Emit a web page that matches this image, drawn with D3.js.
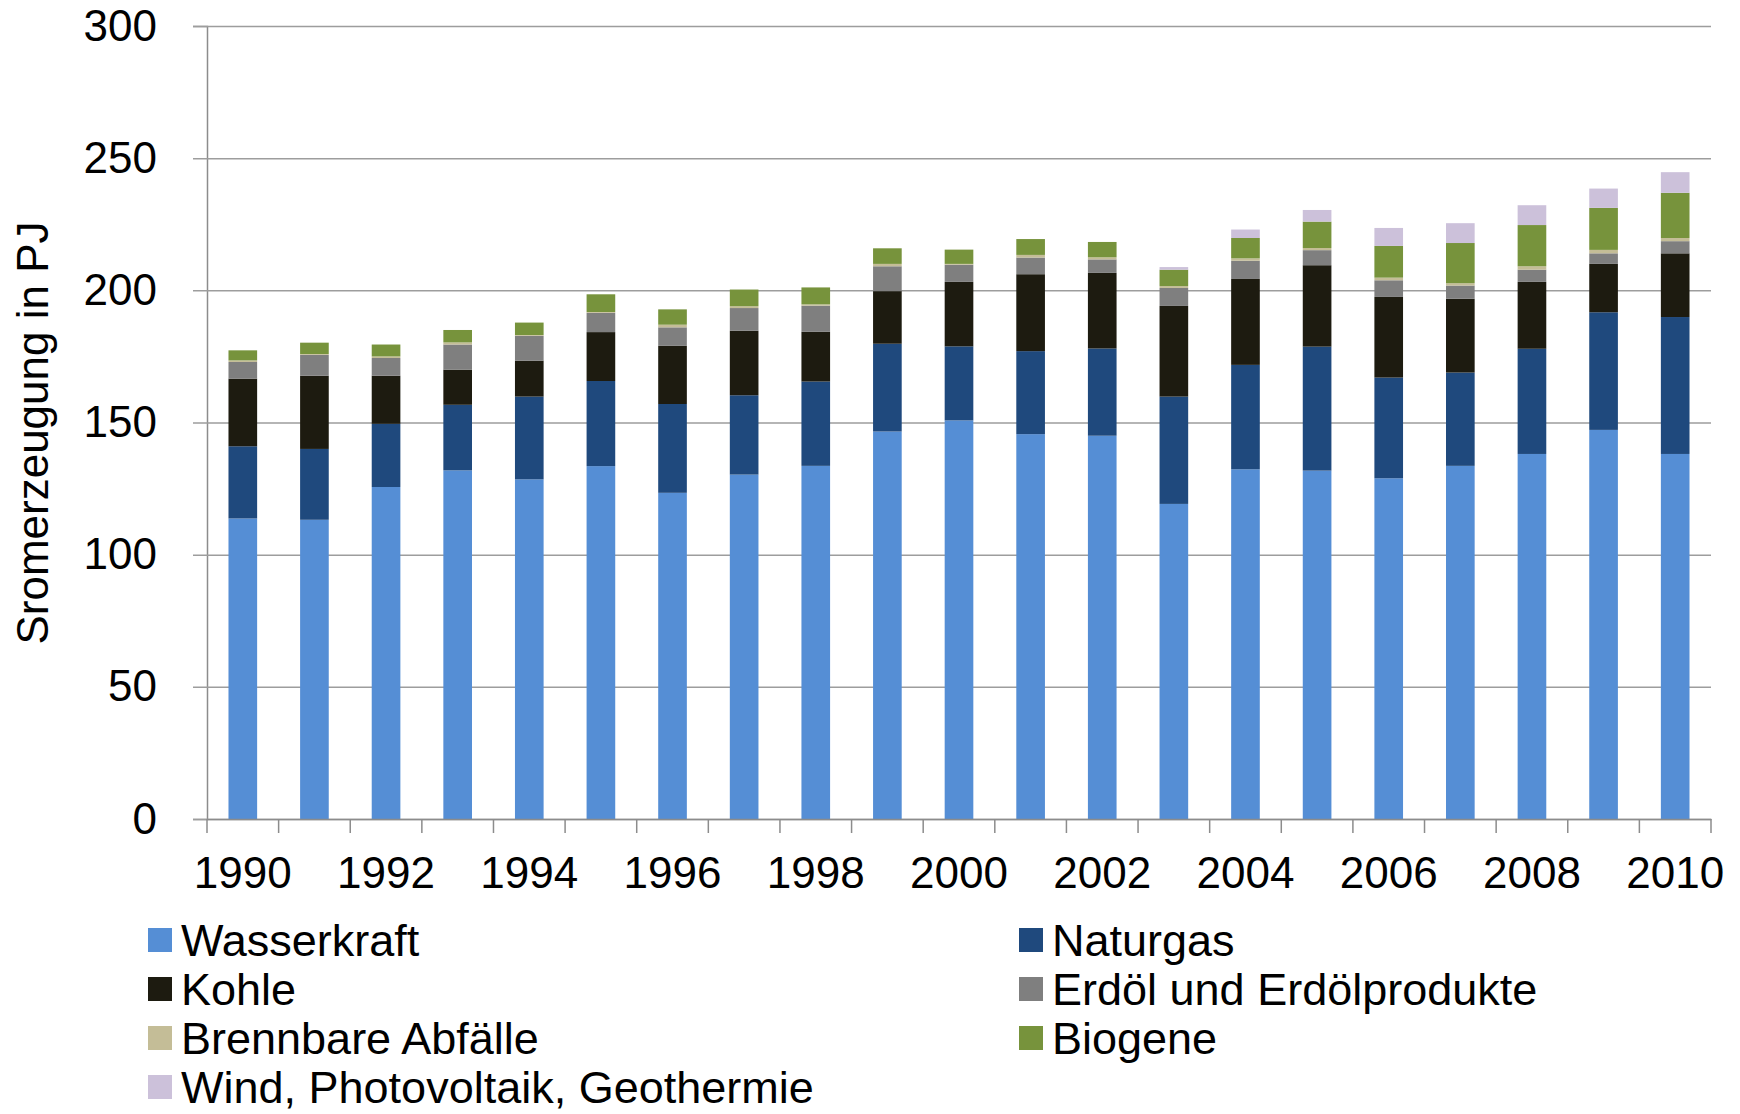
<!DOCTYPE html>
<html>
<head>
<meta charset="utf-8">
<script src="https://cdn.jsdelivr.net/npm/d3@7"></script>
<style>
  body { margin: 0; background: #fff; }
  svg { display: block; font-family: "Liberation Sans", Arial, sans-serif; }
</style>
</head>
<body>
<svg id="chart" width="1740" height="1114"></svg>
<script>
// data (PJ)
const years = d3.range(1990, 2011).map(String);
const labelYears = ["1990", "1992", "1994", "1996", "1998", "2000", "2002", "2004", "2006", "2008", "2010"];
const yTicks = [0, 50, 100, 150, 200, 250, 300];

const wasserkraft = [113.7, 113.2, 125.6, 131.9, 128.5, 133.5, 123.4, 130.3, 133.6, 146.6, 150.8, 145.6, 145.0, 119.2, 132.3, 131.8, 128.9, 133.6, 138.1, 147.2, 138.1];
const naturgas    = [27.3, 26.8, 23.9, 24.8, 31.3, 32.2, 33.6, 30.0, 31.9, 33.2, 28.0, 31.4, 33.0, 40.6, 39.5, 46.9, 38.1, 35.3, 39.8, 44.5, 51.8];
const kohle       = [25.6, 27.7, 18.2, 13.3, 13.6, 18.5, 22.0, 24.4, 18.8, 19.9, 24.4, 29.1, 28.6, 34.3, 32.5, 30.8, 30.5, 27.9, 25.3, 18.3, 24.1];
const erdoel      = [6.3, 7.9, 6.7, 9.5, 9.4, 7.3, 7.0, 8.6, 9.9, 9.4, 6.5, 6.3, 5.1, 6.8, 6.9, 5.7, 6.3, 5.0, 4.6, 4.0, 4.6];
const abfaelle    = [0.6, 0.3, 0.6, 0.8, 0.3, 0.3, 1.0, 0.7, 0.5, 0.9, 0.3, 1.0, 0.8, 0.7, 0.9, 0.8, 1.0, 0.9, 1.3, 1.3, 1.2];
const biogene     = [3.8, 4.3, 4.5, 4.7, 4.7, 6.7, 5.8, 6.3, 6.4, 5.9, 5.4, 6.0, 5.8, 6.2, 7.7, 10.0, 12.0, 15.2, 15.6, 15.9, 17.1];
const wind        = [0, 0, 0, 0, 0, 0, 0, 0, 0, 0, 0, 0, 0, 1.0, 3.2, 4.4, 6.8, 7.5, 7.5, 7.3, 7.8];

const series = [
  { key: "Wasserkraft", values: wasserkraft, color: "#558ed5" },
  { key: "Naturgas", values: naturgas, color: "#1f497d" },
  { key: "Kohle", values: kohle, color: "#1d1b10" },
  { key: "Erdöl und Erdölprodukte", values: erdoel, color: "#7f7f7f" },
  { key: "Brennbare Abfälle", values: abfaelle, color: "#c4bd97" },
  { key: "Biogene", values: biogene, color: "#77933c" },
  { key: "Wind, Photovoltaik, Geothermie", values: wind, color: "#ccc1da" }
];

const table = years.map((yr, i) => {
  const row = { year: yr };
  series.forEach(s => { row[s.key] = s.values[i]; });
  return row;
});

const margin = { top: 26, right: 29, bottom: 295, left: 207 };
const width = 1740, height = 1114;
const fontSize = 44;

const svg = d3.select("#chart");

const x = d3.scaleBand()
  .domain(years)
  .range([margin.left, width - margin.right])
  .paddingInner(0.6)
  .paddingOuter(0.3);

const y = d3.scaleLinear()
  .domain([0, 300])
  .range([height - margin.bottom, margin.top]);

const color = d3.scaleOrdinal()
  .domain(series.map(s => s.key))
  .range(series.map(s => s.color));

// gridlines + y axis
const yAxis = svg.append("g")
  .attr("transform", `translate(${margin.left},0)`)
  .call(d3.axisLeft(y).tickValues(yTicks).tickSize(14).tickPadding(36));
yAxis.select(".domain").attr("stroke", "#8c8c8c").attr("stroke-width", 1.5);
yAxis.selectAll(".tick line").attr("stroke", "#9d9d9d").attr("stroke-width", 1.5)
  .attr("x2", -14).attr("x1", width - margin.right - margin.left);
yAxis.selectAll(".tick text").attr("font-size", fontSize).attr("fill", "#000")
  .attr("font-family", "Liberation Sans, Arial, sans-serif");

// stacked bars
const stacked = d3.stack().keys(series.map(s => s.key))(table);

svg.append("g")
  .selectAll("g")
  .data(stacked)
  .join("g")
  .attr("fill", d => color(d.key))
  .selectAll("rect")
  .data(d => d)
  .join("rect")
  .attr("x", d => x(d.data.year))
  .attr("y", d => y(d[1]))
  .attr("height", d => y(d[0]) - y(d[1]))
  .attr("width", x.bandwidth());

// x axis: labels every other year, ticks between categories
const xAxis = svg.append("g")
  .attr("transform", `translate(0,${height - margin.bottom})`)
  .call(d3.axisBottom(x).tickValues(labelYears).tickSize(0).tickPadding(38).tickSizeOuter(0));
xAxis.select(".domain").attr("stroke", "#8c8c8c").attr("stroke-width", 1.5);
xAxis.selectAll(".tick text").attr("font-size", fontSize).attr("fill", "#000")
  .attr("font-family", "Liberation Sans, Arial, sans-serif");

const step = x.step();
const bounds = years.map(yr => x(yr) + x.bandwidth() / 2 - step / 2);
bounds.push(width - margin.right);
xAxis.selectAll(".sep")
  .data(bounds)
  .join("line")
  .attr("class", "sep")
  .attr("x1", d => d)
  .attr("x2", d => d)
  .attr("y1", 0)
  .attr("y2", 14)
  .attr("stroke", "#8c8c8c")
  .attr("stroke-width", 1.5);

// y title
svg.append("text")
  .attr("transform", `translate(33,433) rotate(-90)`)
  .attr("text-anchor", "middle")
  .attr("dy", "0.35em")
  .attr("font-size", fontSize)
  .text("Sromerzeugung in PJ");

// legend, two columns
const legendCols = [148, 1019];
const legendRows = [940, 989, 1038, 1087];

const legend = svg.append("g")
  .selectAll("g")
  .data(series)
  .join("g")
  .attr("transform", (d, i) => `translate(${legendCols[i % 2]},${legendRows[Math.floor(i / 2)]})`);

legend.append("rect")
  .attr("x", 0)
  .attr("y", -12)
  .attr("width", 24)
  .attr("height", 24)
  .attr("fill", d => d.color);

legend.append("text")
  .attr("x", 33)
  .attr("dy", "0.35em")
  .attr("font-size", 45)
  .text(d => d.key);
</script>
</body>
</html>
